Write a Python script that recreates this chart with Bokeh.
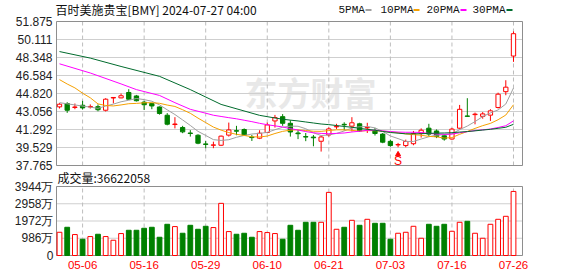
from bokeh.plotting import figure
from bokeh.models import FixedTicker, Range1d, ColumnDataSource, Label, LinearAxis
from bokeh.embed import file_html
from bokeh.resources import INLINE
from bokeh.core.properties import value

# ---------------- data ----------------
title_text = "百时美施贵宝[BMY] 2024-07-27 04:00"

dates = ["05-01", "05-02", "05-03", "05-06", "05-07", "05-08", "05-09", "05-10",
         "05-13", "05-14", "05-15", "05-16", "05-17", "05-20", "05-21", "05-22",
         "05-23", "05-24", "05-28", "05-29", "05-30", "05-31",
         "06-03", "06-04", "06-05", "06-06", "06-07", "06-10", "06-11", "06-12",
         "06-13", "06-14", "06-17", "06-18", "06-20", "06-21", "06-24", "06-25",
         "06-26", "06-27", "06-28",
         "07-01", "07-02", "07-03", "07-05", "07-08", "07-09", "07-10", "07-11",
         "07-12", "07-15", "07-16", "07-17", "07-18", "07-19", "07-22", "07-23",
         "07-24", "07-25", "07-26"]

opens = [43.51, 43.84, 43.45, 43.67, 43.50, 43.53, 43.18, 44.38, 44.39, 44.92,
         44.58, 43.97, 43.84, 43.50, 42.69, 41.78, 41.49, 40.95, 40.73, 39.88,
         39.75, 39.75, 40.74, 41.18, 41.29, 40.55, 40.44, 41.00, 42.13, 42.55,
         41.90, 40.95, 40.60, 40.55, 40.14, 40.76, 41.55, 41.80, 41.62, 41.85,
         41.45, 41.20, 40.84, 40.13, 39.78, 39.72, 39.90, 40.92, 41.42, 41.15,
         40.68, 40.36, 41.42, 42.62, 42.75, 42.58, 42.70, 43.45, 45.00, 48.49]
highs = [43.87, 43.97, 43.84, 44.10, 43.75, 43.75, 44.36, 44.45, 44.82, 45.24,
         44.68, 44.10, 43.90, 43.55, 42.90, 42.50, 41.65, 41.23, 40.83, 40.17,
         40.10, 40.70, 41.97, 41.65, 41.40, 40.75, 41.22, 41.97, 42.72, 42.80,
         42.20, 41.25, 40.95, 40.75, 40.70, 41.50, 41.85, 42.00, 42.50, 41.95,
         41.95, 41.45, 40.95, 40.30, 39.98, 40.30, 41.15, 41.40, 41.85, 41.30,
         40.85, 41.45, 43.70, 44.36, 42.95, 43.00, 43.28, 44.90, 46.12, 50.90]
lows = [43.35, 42.92, 43.28, 43.25, 43.35, 43.08, 43.06, 43.85, 44.36, 44.19,
        44.04, 43.20, 43.28, 42.75, 41.70, 41.40, 40.93, 40.60, 39.85, 39.46,
        39.46, 39.67, 40.60, 40.73, 40.65, 40.17, 40.35, 40.93, 41.48, 41.65,
        40.60, 40.35, 40.15, 39.65, 39.13, 40.60, 41.35, 41.20, 41.10, 41.05,
        40.95, 40.70, 39.95, 39.60, 39.55, 39.55, 39.75, 40.50, 40.65, 40.45,
        40.20, 40.30, 41.32, 42.55, 41.80, 42.35, 42.13, 43.35, 44.65, 47.92]
closes = [43.77, 43.18, 43.50, 43.41, 43.55, 43.23, 44.26, 44.43, 44.60, 44.26,
          44.11, 43.72, 43.60, 42.86, 41.81, 41.83, 41.06, 40.90, 39.95, 39.83,
          39.78, 40.64, 41.25, 41.13, 40.73, 40.50, 40.93, 41.74, 42.46, 41.90,
          41.05, 40.88, 40.55, 40.48, 40.56, 41.35, 41.60, 41.75, 41.95, 41.15,
          41.50, 40.90, 40.05, 39.72, 39.82, 40.12, 40.90, 41.22, 40.84, 40.60,
          40.36, 41.33, 43.27, 42.58, 42.80, 42.82, 43.12, 44.75, 45.44, 50.68]

# volume in shares
volumes = [13280000, 16130000, 11970000, 9290000, 10830000, 12140000, 10830000,
           8720000, 12540000, 14420000, 14420000, 15560000, 16130000, 10430000,
           17840000, 16530000, 12710000, 17270000, 14990000, 16700000, 15960000,
           29810000, 13680000, 12140000, 12710000, 10430000, 13680000, 13110000,
           12540000, 9290000, 17270000, 14420000, 18980000, 18980000, 18980000,
           36080000, 14990000, 16130000, 20120000, 17270000, 20690000, 18410000,
           18410000, 9290000, 12710000, 13280000, 16700000, 9860000, 17840000,
           16700000, 17840000, 13850000, 18980000, 19550000, 12710000, 9860000,
           17840000, 20690000, 22400000, 36622058]

# moving averages (index, value)
ma5_idx = [0] + list(range(4, 60))
ma5_val = [43.92, 43.48, 43.37, 43.59, 43.78, 44.01, 44.16, 44.33, 44.22, 44.06,
           43.71, 43.22, 42.76, 42.23, 41.69, 41.11, 40.71, 40.30, 40.22, 40.29,
           40.53, 40.71, 40.85, 40.91, 41.01, 41.27, 41.51, 41.62, 41.61, 41.37,
           40.97, 40.70, 40.76, 40.91, 41.15, 41.44, 41.56, 41.59, 41.45, 41.11,
           40.66, 40.40, 40.12, 40.12, 40.36, 40.58, 40.74, 40.78, 40.87, 41.28,
           41.63, 42.07, 42.56, 42.92, 43.21, 43.79, 45.36]
ma10_idx = list(range(0, 60))
ma10_val = [46.18, 45.75, 45.37, 44.85, 44.40, 43.80, 43.65, 43.60, 43.70, 43.82,
            43.85, 43.91, 43.92, 43.86, 43.69, 43.55, 43.23, 42.88, 42.41, 41.97,
            41.53, 41.23, 40.99, 40.82, 40.71, 40.58, 40.56, 40.65, 40.90, 41.11,
            41.23, 41.26, 41.19, 41.12, 41.11, 41.19, 41.26, 41.26, 41.21, 41.13,
            41.18, 41.18, 41.13, 41.05, 40.98, 40.86, 40.79, 40.73, 40.62, 40.57,
            40.45, 40.50, 40.82, 41.10, 41.40, 41.67, 41.89, 42.25, 42.71, 43.72]
ma20_idx = [0, 4, 8, 10, 13, 15, 17] + list(range(19, 60))
ma20_val = [47.73, 46.83, 45.76, 45.20, 44.63, 43.92, 43.27,
            42.89, 42.69, 42.57, 42.45, 42.34, 42.20, 42.06, 41.90, 41.76, 41.65,
            41.54, 41.38, 41.24, 41.09, 40.97, 40.91, 40.88, 40.91, 40.95, 41.05,
            41.12, 41.21, 41.22, 41.16, 41.09, 41.04, 41.02, 41.02, 41.00, 40.91,
            40.85, 40.82, 40.84, 40.97, 41.08, 41.19, 41.26, 41.34, 41.49, 41.66,
            42.14]
ma30_idx = [0, 4, 8, 13, 17, 21, 26, 28] + list(range(29, 60))
ma30_val = [48.93, 48.29, 47.47, 46.50, 45.20, 43.75, 42.68, 42.42,
            42.30, 42.21, 42.13, 42.03, 41.93, 41.83, 41.77, 41.68, 41.59, 41.51,
            41.40, 41.31, 41.22, 41.10, 41.00, 40.93, 40.87, 40.87, 40.88, 40.91,
            40.94, 40.95, 40.98, 41.04, 41.09, 41.16, 41.24, 41.31, 41.41, 41.51,
            41.80]

legend_names = ["5PMA", "10PMA", "20PMA", "30PMA"]
legend_colors = ["#a0a0a0", "#f5a000", "#ff00ff", "#006b2d"]

price_ticks = [37.765, 39.52875, 41.2925, 43.05625, 44.82, 46.58375, 48.3475,
               50.11125, 51.875]
price_tick_labels = ["37.765", "39.529", "41.292", "43.056", "44.820", "46.584",
                     "48.348", "50.111", "51.875"]
vol_ticks = [0, 9860000, 19720000, 29580000, 39440000]
vol_tick_labels = ["0", "986万", "1972万", "2958万", "3944万"]
date_ticks = ["05-06", "05-16", "05-29", "06-10", "06-21", "07-03", "07-16", "07-26"]
signal_date = "07-05"
signal_text = "S"
watermark_text = "东方财富"
volume_caption = "成交量"

# ---------------- layout (pixels) ----------------
W, H = 578, 276
FL, FR = 56, 522          # panels left / right
X0, X1 = -0.39, 60.17     # index range shown across the panels
P_MIN, P_MAX = price_ticks[0], price_ticks[-1]
V_MAX = vol_ticks[-1]
PT, PB = 21, 165          # price panel top / bottom
VT, VB = 186, 255         # volume panel top / bottom

kx = (FR - FL) / (X1 - X0)
ppu = (PB - PT) / (P_MAX - P_MIN)
vpu = (VB - VT) / V_MAX
XS, XE = X0 - FL / kx, X1 + (W - FR) / kx
YS, YE = P_MIN - (H - PB) / ppu, P_MAX + PT / ppu
VS, VE = -(H - VB) / vpu, V_MAX + VT / vpu


def px_x(px):
    return XS + px / kx


def px_price(py):
    return YE - py / ppu


RED = "#ff0000"
GREEN = "#008000"
GRID = "#cfcfcf"
VGRID = "#bdbdbd"
FRAME = "#8e8e8e"
N = len(dates)
xs = list(range(N))
date_idx = [dates.index(d) for d in date_ticks]

up = [c >= o for o, c in zip(opens, closes)]
btop = [max(o, c) for o, c in zip(opens, closes)]
bbot = [min(o, c) for o, c in zip(opens, closes)]


def sel(mask, arr):
    return [a for m, a in zip(mask, arr) if m]


dn = [not u for u in up]
src_up = ColumnDataSource(dict(x=sel(up, xs), top=sel(up, btop), bot=sel(up, bbot),
                               hi=sel(up, highs), lo=sel(up, lows), vol=sel(up, volumes)))
src_dn = ColumnDataSource(dict(x=sel(dn, xs), top=sel(dn, btop), bot=sel(dn, bbot),
                               hi=sel(dn, highs), lo=sel(dn, lows), vol=sel(dn, volumes)))

p = figure(width=W, height=H, x_range=Range1d(XS, XE), y_range=Range1d(YS, YE),
           x_axis_location=None, y_axis_location=None, toolbar_location=None,
           output_backend="svg", min_border=0, min_border_left=0, min_border_right=0,
           min_border_top=0, min_border_bottom=0, title=None)
p.extra_y_ranges = {"vol": Range1d(VS, VE)}
p.xgrid.visible = False
p.ygrid.visible = False
p.outline_line_color = None
p.background_fill_color = "white"
p.border_fill_color = "white"

# watermark
p.add_layout(Label(x=px_x(244), y=px_price(91), text=watermark_text, text_font="Noto Sans CJK SC",
                   text_font_size="33px", text_font_style="bold", text_color="#e8e8e8",
                   text_baseline="middle", text_align="left", level="underlay"))

# grid lines (from the tick arrays)
p.segment(x0=X0, x1=X1, y0=price_ticks, y1=price_ticks, line_color=GRID, line_width=1)
p.segment(x0=X0, x1=X1, y0=vol_ticks, y1=vol_ticks, line_color=GRID, line_width=1,
          y_range_name="vol")
p.segment(x0=date_idx, x1=date_idx, y0=P_MIN, y1=P_MAX, line_color=VGRID, line_width=1,
          line_dash="4 3")
p.segment(x0=date_idx, x1=date_idx, y0=0, y1=V_MAX, line_color=VGRID, line_width=1,
          line_dash="4 3", y_range_name="vol")

# panel frames
p.quad(left=X0, right=X1, bottom=P_MIN, top=P_MAX, fill_color=None, line_color=FRAME, line_width=1)
p.quad(left=X0, right=X1, bottom=0, top=V_MAX, fill_color=None, line_color=FRAME, line_width=1,
       y_range_name="vol")

# axes (library axes, placed at the panel edges)
def style_axis(ax, size, color, standoff):
    ax.axis_line_color = None
    ax.major_tick_line_color = None
    ax.minor_tick_line_color = None
    ax.major_tick_out = 0
    ax.major_tick_in = 0
    ax.major_label_standoff = standoff
    ax.major_label_text_font = "Liberation Sans"
    ax.major_label_text_font_size = size
    ax.major_label_text_color = color


price_axis = LinearAxis(ticker=FixedTicker(ticks=price_ticks), fixed_location=X0,
                        major_label_overrides={t: s for t, s in zip(price_ticks, price_tick_labels)})
style_axis(price_axis, "12px", "#222222", 4)
p.add_layout(price_axis, "left")

vol_axis = LinearAxis(ticker=FixedTicker(ticks=vol_ticks), fixed_location=X0, y_range_name="vol",
                      major_label_overrides={t: s for t, s in zip(vol_ticks, vol_tick_labels)})
style_axis(vol_axis, "12px", "#222222", 3)
p.add_layout(vol_axis, "left")

date_axis = LinearAxis(ticker=FixedTicker(ticks=date_idx), fixed_location=0, y_range_name="vol",
                       major_label_overrides={i: d for i, d in zip(date_idx, date_ticks)})
style_axis(date_axis, "11.5px", RED, 5)
p.add_layout(date_axis, "below")

# candles
for src, col in ((src_up, RED), (src_dn, GREEN)):
    p.segment(x0="x", x1="x", y0="hi", y1="top", source=src, line_color=col, line_width=1)
    p.segment(x0="x", x1="x", y0="bot", y1="lo", source=src, line_color=col, line_width=1)
p.vbar(x="x", width=0.56, top="top", bottom="bot", source=src_up,
       fill_color="white", line_color=RED, line_width=1)
p.vbar(x="x", width=0.56, top="top", bottom="bot", source=src_dn,
       fill_color=GREEN, line_color=GREEN, line_width=1)

# moving averages
for idx, val, col in ((ma5_idx, ma5_val, legend_colors[0]), (ma10_idx, ma10_val, legend_colors[1]),
                      (ma20_idx, ma20_val, legend_colors[2]), (ma30_idx, ma30_val, legend_colors[3])):
    p.line(idx, val, line_color=col, line_width=1)

# signal marker
si = dates.index(signal_date)
p.scatter([si], [lows[si] - 7 / ppu], marker="triangle", size=5, fill_color=RED, line_color=RED)
p.text([si], [lows[si] - 14 / ppu], text=[signal_text], text_color=RED,
       text_font=value("Liberation Sans"), text_font_size="12px",
       text_align="center", text_baseline="middle")

# volume bars
p.vbar(x="x", width=0.62, top="vol", bottom=0, source=src_up, fill_color="white",
       line_color=RED, line_width=1, y_range_name="vol")
p.vbar(x="x", width=0.62, top="vol", bottom=0, source=src_dn, fill_color=GREEN,
       line_color=GREEN, line_width=1, y_range_name="vol")

# title, legend, volume caption
p.add_layout(Label(x=px_x(55), y=px_price(9), text=title_text, text_font="Noto Sans CJK SC",
                   text_font_size="12px", text_color="#111111", text_baseline="middle",
                   text_align="left"))
leg_text_x = [338, 380, 426, 472]
leg_line_x = [365, 413, 460, 506]
for name, col, tx, lx in zip(legend_names, legend_colors, leg_text_x, leg_line_x):
    p.add_layout(Label(x=px_x(tx), y=px_price(9), text=name, text_font="Liberation Mono",
                       text_font_size="11px", text_color="#111111", text_baseline="middle",
                       text_align="left"))
    p.segment(x0=[px_x(lx)], x1=[px_x(lx + 6)], y0=[px_price(9.5)], y1=[px_price(9.5)],
              line_color=col, line_width=2)

p.add_layout(Label(x=px_x(57), y=px_price(177), text="%s:%d" % (volume_caption, volumes[-1]),
                   text_font="Noto Sans CJK SC", text_font_size="12px", text_color="#111111",
                   text_baseline="middle", text_align="left"))

open("out.html", "w").write(file_html(p, INLINE))
